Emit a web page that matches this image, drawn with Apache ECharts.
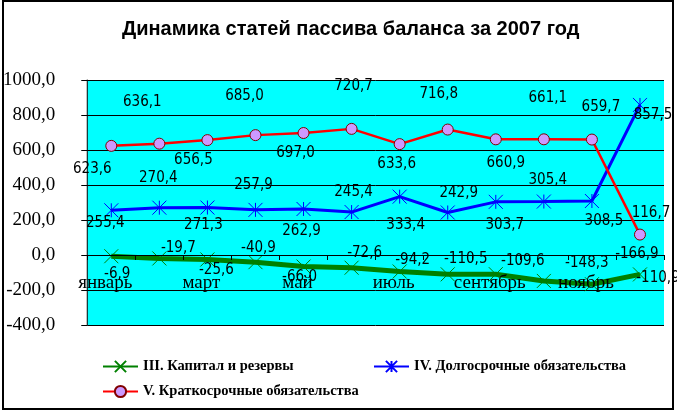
<!DOCTYPE html>
<html>
<head>
<meta charset="utf-8">
<script src="https://cdn.jsdelivr.net/npm/echarts@6/dist/echarts.min.js"></script>
<style>
html,body{margin:0;padding:0;background:#fff;}
#chart{width:677px;height:417px;}
</style>
</head>
<body>
<div id="chart"></div>
<script>
// ---- data ----
var months = ['январь','февраль','март','апрель','май','июнь','июль','август','сентябрь','октябрь','ноябрь','декабрь'];
var seriesNames = ['III. Капитал и резервы','IV. Долгосрочные обязательства','V. Краткосрочные обязательства'];
var capital = [-6.9, -19.7, -25.6, -40.9, -66.0, -72.6, -94.2, -110.5, -109.6, -148.3, -166.9, -110.9];
var longTerm = [255.4, 270.4, 271.3, 257.9, 262.9, 245.4, 333.4, 242.9, 303.7, 305.4, 308.5, 857.5];
var shortTerm = [623.6, 636.1, 656.5, 685.0, 697.0, 720.7, 633.6, 716.8, 660.9, 661.1, 659.7, 116.7];
var yTicks = {min: -400, max: 1000, interval: 200};

// ---- label placement (style only: offsets of each label from its point) ----
var capitalLabelOffsets = [[6,18],[19,-10],[9,11],[3,-14],[-4,11],[13,-15],[13,-11],[18,-15],[27,-13],[43,-18],[45,-30],[18,4]];
var longLabelOffsets = [[-6,13],[-1,-30],[-4,18],[-2,-25],[-2,22],[2,-20],[6,28],[11,-19],[9,23],[4,-21],[12,20],[13,10]];
var shortLabelOffsets = [[-19,23],[-17,-42],[-14,20],[-11,-39],[-8,20],[2,-43],[-3,20],[-9,-35],[10,24],[4,-41],[9,-32],[11,-21]];

function fmt(v){ return v.toFixed(1).replace('.', ','); }
var labelFamily = '"Liberation Sans Narrow","DejaVu Sans Condensed",sans-serif';
function withLabels(values, offsets){
  return values.map(function(v, i){
    return {value: v, label: {offset: offsets[i]}};
  });
}
function dataLabel(){
  return {show:true, position:'inside', formatter:function(p){return fmt(p.value);}, fontFamily:labelFamily, fontSize:15, color:'#000'};
}

var chart = echarts.init(document.getElementById('chart'), null, {renderer:'canvas'});
var legendText = {fontFamily:'"Liberation Serif","Times New Roman",serif', fontWeight:'bold', fontSize:14.5, color:'#000'};
var serif = '"Liberation Serif","Times New Roman",serif';
var option = {
  backgroundColor:'#fff',
  animation:false,
  title:{
    text:'Динамика статей пассива баланса за 2007 год',
    left:117, top:14,
    textStyle:{fontFamily:'"Liberation Sans",Arial,sans-serif', fontWeight:'bold', fontSize:20, color:'#000'}
  },
  graphic:[{
    type:'rect', shape:{x:3, y:1, width:670, height:408},
    style:{fill:'none', stroke:'#000', lineWidth:2}, silent:true, z:100
  }],
  legend:[
    {data:[seriesNames[0]], left:102, top:359, padding:0, itemWidth:35, itemHeight:14, itemGap:0, textStyle:legendText},
    {data:[seriesNames[1]], left:373, top:359, padding:0, itemWidth:35, itemHeight:14, itemGap:0, textStyle:legendText},
    {data:[seriesNames[2]], left:102, top:384, padding:0, itemWidth:35, itemHeight:14, itemGap:0, textStyle:legendText}
  ],
  grid:{left:86, right:13, top:80, bottom:92, show:true, backgroundColor:'#00ffff', borderWidth:0},
  xAxis:{
    type:'category', data:months, boundaryGap:true, z:5,
    axisLine:{onZero:false, lineStyle:{color:'#000', width:1}},
    axisTick:{show:true, interval:0, length:5, lineStyle:{color:'#000'}},
    axisLabel:{interval:1, margin:19, padding:[0,12,0,0], fontFamily:serif, fontSize:19, color:'#000'},
    splitLine:{show:false}
  },
  yAxis:{
    type:'value', min:yTicks.min, max:yTicks.max, interval:yTicks.interval,
    axisLine:{show:true, lineStyle:{color:'#000', width:1}},
    axisTick:{show:true, length:6, lineStyle:{color:'#000'}},
    axisLabel:{margin:32, formatter:fmt, padding:[0,0,6,0], fontFamily:serif, fontSize:19, color:'#000'},
    splitLine:{show:true, lineStyle:{color:'#000', width:1}}
  },
  series:[
    {
      name:seriesNames[0], type:'line', data:withLabels(capital, capitalLabelOffsets),
      symbol:'path://M0,0L10,10M10,0L0,10', symbolSize:14,
      lineStyle:{color:'#008000', width:5},
      itemStyle:{color:'#008000', borderColor:'#008000', borderWidth:1},
      label:dataLabel()
    },
    {
      name:seriesNames[1], type:'line', data:withLabels(longTerm, longLabelOffsets),
      symbol:'path://M0,0L10,10M10,0L0,10M5,0L5,10', symbolSize:14,
      lineStyle:{color:'#0000ff', width:3},
      itemStyle:{color:'#0000ff', borderColor:'#0000ff', borderWidth:1},
      label:dataLabel()
    },
    {
      name:seriesNames[2], type:'line', data:withLabels(shortTerm, shortLabelOffsets),
      symbol:'circle', symbolSize:11,
      lineStyle:{color:'#ff0000', width:2.5},
      itemStyle:{color:'#cc99ff', borderColor:'#800000', borderWidth:1},
      label:dataLabel()
    }
  ]
};
chart.setOption(option);
// place the category axis on the value-axis zero line, using the axis' own scale
var zeroY = chart.convertToPixel({yAxisIndex:0}, 0);
var bottomY = chart.convertToPixel({yAxisIndex:0}, yTicks.min);
chart.setOption({xAxis:{offset: zeroY - bottomY}});
</script>
</body>
</html>
